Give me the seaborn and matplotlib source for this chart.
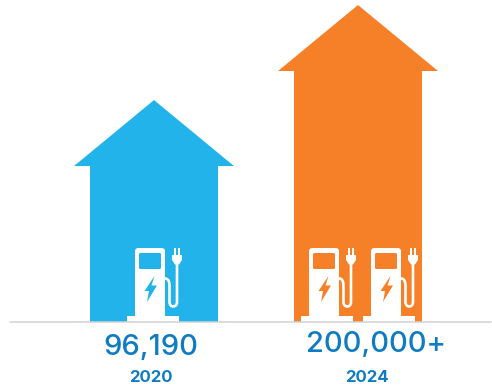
import matplotlib
matplotlib.use("Agg")
import matplotlib.pyplot as plt
import seaborn as sns
from matplotlib.lines import Line2D
from matplotlib.patches import FancyBboxPatch, PathPatch, Polygon, Rectangle
from matplotlib.path import Path
from matplotlib.transforms import Affine2D

# Public EV charging ports by year
years = ["2020", "2024"]
ports = [96190, 200000]
port_labels = ["96,190", "200,000+"]
charger_lefts = [[135], [309, 371]]
colors = ["#21B3E9", "#F68028"]
TEXT = "#0F7CC1"

W, H, BASE = 492, 389, 322
POWER = 0.487

sns.set_theme(style="white")
plt.rcParams["font.family"] = ["Inter", "DejaVu Sans"]

fig = plt.figure(figsize=(W / 100, H / 100), dpi=100, facecolor="white")
ax = fig.add_axes([0, 1 - BASE / H, 1, BASE / H])

sns.barplot(x=years, y=ports, hue=years, palette=colors, legend=False,
            width=160 / 204, saturation=1, ax=ax)

# Compressed value scale, anchored on the zero baseline
ax.set_yscale("function", functions=(lambda v: v ** POWER, lambda v: v ** (1 / POWER)))
ax.set_ylim(0, max(ports) * (322 / 317) ** (1 / POWER))
ax.set_xlim(-154 / 204, (W - 154) / 204)
ax.axis("off")

# Top-down pixel coordinates for the annotations and icons
px = Affine2D().scale(1, -1).translate(0, H)
fig.canvas.draw()

HEAD_H, SHAFT_HALF = 66, 64
for bar, value in zip(ax.patches, ports):
    # Trim each bar to an upward-arrow outline
    (x0, _), (x1, _) = ax.transData.transform(
        [(bar.get_x(), 0), (bar.get_x() + bar.get_width(), 0)])
    _, top = ax.transData.transform((0, value))
    _, bottom = ax.transData.transform((0, 0))
    cx = (x0 + x1) / 2
    outline = [(cx, top), (x1, top - HEAD_H), (cx + SHAFT_HALF, top - HEAD_H),
               (cx + SHAFT_HALF, bottom), (cx - SHAFT_HALF, bottom),
               (cx - SHAFT_HALF, top - HEAD_H), (x0, top - HEAD_H), (cx, top)]
    bar.set_clip_path(Path(outline), Affine2D())
    bar.set_linewidth(0)


def add(artist):
    artist.set_transform(px)
    artist.set_clip_on(False)
    ax.add_artist(artist)
    return artist


def draw_charger(left, back):
    """White charging-station pictogram with its body's left edge at `left`."""
    add(Rectangle((left - 8, 316), 51.5, 6, fc="white", lw=0))
    add(FancyBboxPatch((left, 248), 30, 70,
                       boxstyle="round,pad=0,rounding_size=3.5", fc="white", lw=0))
    add(FancyBboxPatch((left + 4, 253), 22, 16,
                       boxstyle="round,pad=0,rounding_size=1.5", fc=back, lw=0))
    bolt = [(20, 276), (10, 291), (14.5, 291), (12.5, 302), (22.5, 285.5), (17, 285.5)]
    add(Polygon([(left + a - 0.5, b) for a, b in bolt], closed=True, fc=back, lw=0))
    cable = Path(
        [(left + 30, 278.5), (left + 34, 278.5), (left + 34.5, 283), (left + 34.5, 286),
         (left + 34.5, 302), (left + 34.5, 308), (left + 42, 308), (left + 42, 302),
         (left + 42, 264)],
        [Path.MOVETO, Path.CURVE4, Path.CURVE4, Path.CURVE4,
         Path.LINETO, Path.CURVE4, Path.CURVE4, Path.CURVE4, Path.LINETO])
    add(PathPatch(cable, fc="none", ec="white", lw=1.9))
    plug = [(37, 255), (47, 255), (47, 260), (44, 264.5), (40, 264.5), (37, 260)]
    add(Polygon([(left + a, b) for a, b in plug], closed=True, fc="white", lw=0))
    for prong in (38.6, 43.4):
        add(Rectangle((left + prong, 248), 2, 8, fc="white", lw=0))


for lefts, back in zip(charger_lefts, colors):
    for left in lefts:
        draw_charger(left, back)

add(Line2D([10, 491], [322, 322], color="#D2D2D2", lw=1.1))

value_anchor = [(151, 347), (376, 344.5)]
year_anchor = [(151, 377.5), (367, 377.5)]
for label, year, (vx, vy), (yx, yy) in zip(port_labels, years, value_anchor, year_anchor):
    ax.text(vx, vy, label, transform=px, ha="center", va="center", color=TEXT,
            fontsize=21, fontweight="medium", clip_on=False)
    ax.text(yx, yy, year, transform=px, ha="center", va="center", color=TEXT,
            fontsize=12, fontweight="bold", clip_on=False)

fig.savefig("out.png", dpi=100, facecolor="white")
